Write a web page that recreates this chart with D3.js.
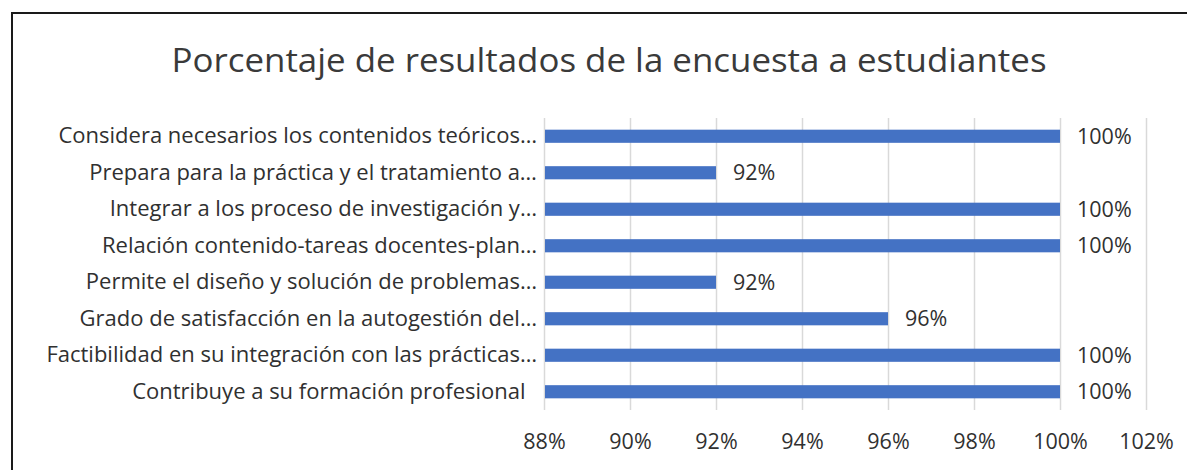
<!DOCTYPE html>
<html>
<head>
<meta charset="utf-8">
<script src="https://cdn.jsdelivr.net/npm/d3@7"></script>
<style>
  body { margin: 0; background: #fff; }
  svg { display: block; font-family: "Open Sans", "Noto Sans", sans-serif; }
  .grid line { stroke: #d9d9d9; stroke-width: 1.5; }
  .grid .domain { display: none; }
  .axis .domain, .axis line { display: none; }
  .axis text { white-space: pre; }
</style>
</head>
<body>
<svg id="chart"></svg>
<script>
let w = 1187;
let h = 470;

let title = "Porcentaje de resultados de la encuesta a estudiantes";

let categories = [
  "Considera necesarios los contenidos teóricos…",
  "Prepara para la práctica y el tratamiento a…",
  "Integrar a los proceso de investigación y…",
  "Relación contenido-tareas docentes-plan…",
  "Permite el diseño y solución de problemas…",
  "Grado de satisfacción en la autogestión del…",
  "Factibilidad en su integración con las prácticas…",
  "Contribuye a su formación profesional  "
];
let values = [1.00, 0.92, 1.00, 1.00, 0.92, 0.96, 1.00, 1.00];
let tickValues = [0.88, 0.90, 0.92, 0.94, 0.96, 0.98, 1.00, 1.02];

let data = categories.map((c, i) => ({ name: c, value: values[i] }));

let textColor = "#303030";

let chart = d3.select("#chart")
  .attr("width", w)
  .attr("height", h);

// outer frame (only left and top edges are visible in the crop)
chart.append("path")
  .attr("d", `M12,${h} L12,13 L${w},13`)
  .attr("fill", "none")
  .attr("stroke", "#1a1a1a")
  .attr("stroke-width", 2);

chart.append("text")
  .attr("x", 609)
  .attr("y", 72)
  .attr("text-anchor", "middle")
  .attr("font-size", 32)
  .attr("fill", "#3a3a3a")
  .attr("textLength", 875)
  .attr("lengthAdjust", "spacingAndGlyphs")
  .text(title);

let xScale = d3.scaleLinear()
  .domain([0.88, 1.02])
  .range([544, 1146]);

let yScale = d3.scaleBand()
  .domain(categories)
  .range([118, 410])
  .paddingInner(0.64)
  .paddingOuter(0.32);

// gridlines
chart.append("g")
  .attr("class", "grid")
  .attr("transform", "translate(0,410)")
  .call(d3.axisBottom(xScale).tickValues(tickValues).tickSize(-(410 - 118)).tickFormat(""));

// bars
chart.append("g")
  .selectAll("rect")
  .data(data)
  .join("rect")
    .attr("x", xScale(0.88) + 1)
    .attr("y", d => yScale(d.name))
    .attr("width", d => xScale(d.value) - xScale(0.88) - 1)
    .attr("height", yScale.bandwidth())
    .attr("fill", "#4472c4");

// value labels
chart.append("g")
  .selectAll("text")
  .data(data)
  .join("text")
    .attr("x", d => xScale(d.value) + 17)
    .attr("y", d => yScale(d.name) + yScale.bandwidth() / 2)
    .attr("dy", "0.35em")
    .attr("font-size", 21.5)
    .attr("fill", textColor)
    .text(d => d3.format(".0%")(d.value));

// x axis
let xAxis = d3.axisBottom(xScale)
  .tickValues(tickValues)
  .tickSize(0)
  .tickPadding(0)
  .tickFormat(d3.format(".0%"));

chart.append("g")
  .attr("class", "axis")
  .attr("transform", "translate(0,441)")
  .call(xAxis)
  .selectAll("text")
    .attr("dy", "0.35em")
    .attr("font-size", 21.5)
    .attr("font-family", "\"Open Sans\", sans-serif")
    .attr("fill", textColor);

// y axis
let yAxis = d3.axisLeft(yScale)
  .tickSize(0)
  .tickPadding(0);

chart.append("g")
  .attr("class", "axis")
  .attr("transform", "translate(537,0)")
  .call(yAxis)
  .selectAll("text")
    .attr("font-size", 22)
    .attr("font-family", "\"Open Sans\", sans-serif")
    .attr("fill", textColor);
</script>
</body>
</html>
